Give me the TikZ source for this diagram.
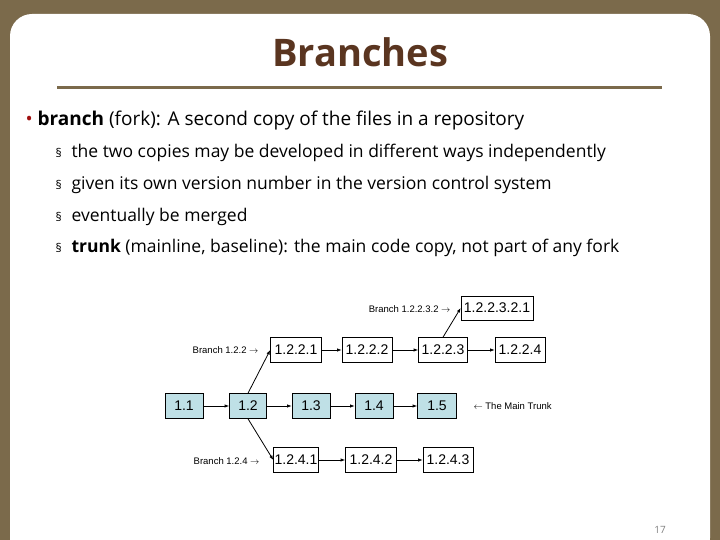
\documentclass[tikz,border=0pt]{standalone}
\usepackage{fontspec}
\setmainfont{Open Sans}
\newfontfamily\figfont{Liberation Sans}
\usetikzlibrary{arrows.meta, positioning}
\definecolor{frame}{HTML}{7B6A4B}
\definecolor{titlebrown}{HTML}{5A3520}
\definecolor{trunkblue}{HTML}{BFE0E6}
\definecolor{bulletred}{HTML}{A01010}
\begin{document}
\begin{tikzpicture}[
    x=1pt, y=-1pt,
    rev/.style={rectangle, draw, semithick, minimum height=25pt, inner sep=1pt, text height=10pt, text depth=1pt, font=\figfont\fontsize{14}{14}\selectfont},
    trunk/.style={rev, fill=trunkblue},
    lbl/.style={font=\figfont\fontsize{9.5}{9.5}\selectfont},
    item/.style={anchor=west, font=\fontsize{17.5}{17.5}\selectfont},
    sect/.style={anchor=west, font=\fontsize{12}{12}\selectfont},
    arrow/.style={-{Latex[length=1.6mm]}, thick},
]
\useasboundingbox (0,0) rectangle (720,540);
% slide frame
\fill[frame] (0,0) rectangle (720,540);
\fill[white, rounded corners=22pt] (10,14) rectangle (710,560);
\node[font=\bfseries\fontsize{38}{38}\selectfont, text=titlebrown] (title) at (360,52) {Branches};
\draw[frame, line width=3pt] (57,88) -- (662,88);

% bullets
\node[anchor=west, font=\fontsize{19}{19}\selectfont] (b0) at (22,121) {\textcolor{bulletred}{\textbullet} \textbf{branch} (fork): A second copy of the files in a repository};
\foreach \y/\txt [count=\i] in {153/{the two copies may be developed in different ways independently},
    185/{given its own version number in the version control system},
    217/{eventually be merged},
    248/{\textbf{trunk} (mainline, baseline): the main code copy, not part of any fork}} {
  \node[sect] (m\i) at (52,\y) {\S};
  \node[item] (b\i) at (68,\y) {\txt};
}

% trunk
\node[trunk, minimum width=38pt] (v11) at (184,406) {1.1};
\node[trunk, minimum width=37pt] (v12) at (248,406) {1.2};
\node[trunk, minimum width=38pt] (v13) at (311,406) {1.3};
\node[trunk, minimum width=38pt] (v14) at (374,406) {1.4};
\node[trunk, minimum width=39pt] (v15) at (437,406) {1.5};
\node[lbl, anchor=west] (trunklbl) at (470,406) {$\leftarrow$ The Main Trunk};

% branch 1.2.2
\node[rev, minimum width=51pt] (v1221) at (296,350) {1.2.2.1};
\node[rev, minimum width=50pt] (v1222) at (367,350) {1.2.2.2};
\node[rev, minimum width=49pt] (v1223) at (443,350) {1.2.2.3};
\node[rev, minimum width=50pt] (v1224) at (520,350) {1.2.2.4};
\node[lbl, anchor=east] (lbl122) at (262,350) {Branch 1.2.2 $\rightarrow$};

% branch 1.2.2.3.2
\node[rev, minimum width=72pt, minimum height=24pt] (v122321) at (497,308) {1.2.2.3.2.1};
\node[lbl, anchor=east] (lbl12232) at (454,309) {Branch 1.2.2.3.2 $\rightarrow$};

% branch 1.2.4
\node[rev, minimum width=42pt] (v1241) at (296,460) {1.2.4.1};
\node[rev, minimum width=51pt] (v1242) at (371,460) {1.2.4.2};
\node[rev, minimum width=50pt] (v1243) at (448,460) {1.2.4.3};
\node[lbl, anchor=east] (lbl124) at (263,461) {Branch 1.2.4 $\rightarrow$};

\draw[arrow] (v11) -- (v12);
\draw[arrow] (v12) -- (v13);
\draw[arrow] (v13) -- (v14);
\draw[arrow] (v14) -- (v15);
\draw[arrow] (v1221) -- (v1222);
\draw[arrow] (v1222) -- (v1223);
\draw[arrow] (v1223) -- (v1224);
\draw[arrow] (v1241) -- (v1242);
\draw[arrow] (v1242) -- (v1243);
\draw[arrow] (v12.north) -- (v1221.west);
\draw[arrow] (v12.south) -- (v1241.west);
\draw[arrow] (v1223.north) -- (v122321.west);

\node[font=\fontsize{10}{10}\selectfont, text=gray] (page) at (660,530) {17};
\end{tikzpicture}
\end{document}
